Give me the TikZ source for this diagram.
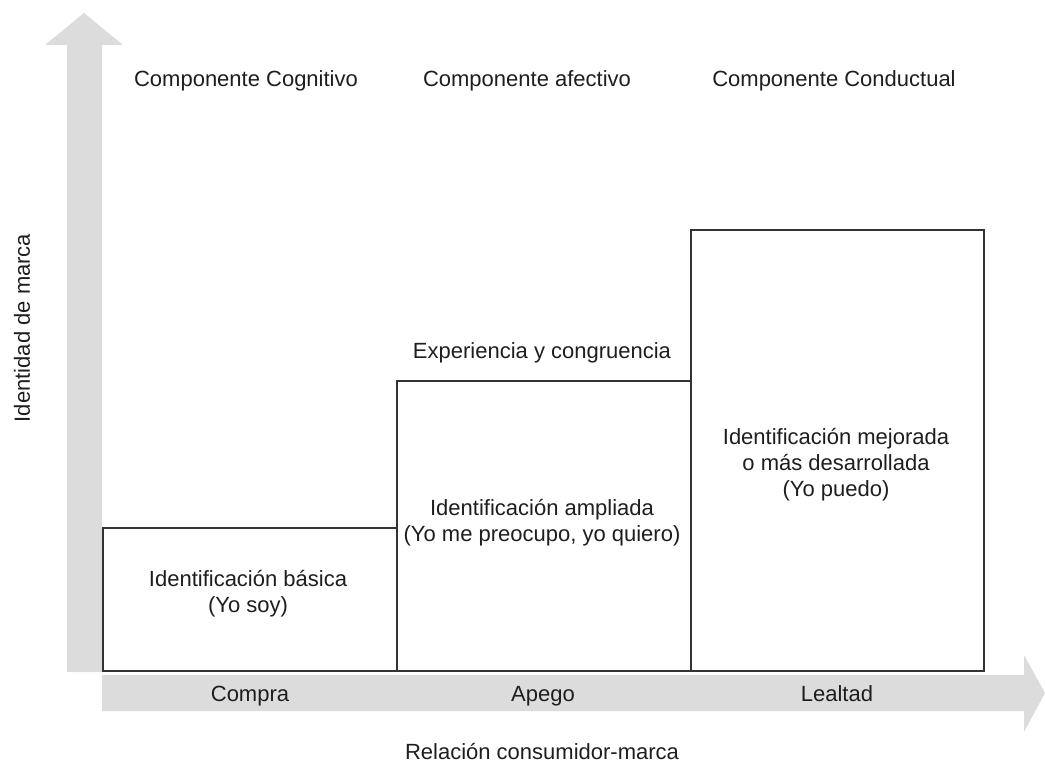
\documentclass[tikz,border=0pt]{standalone}
\usepackage{fontspec}
\setmainfont{Liberation Sans}
\begin{document}
\begin{tikzpicture}[x=1pt,y=-1pt,
  axisfill/.style={fill=axisgray,draw=none},
  stage/.style={draw=boxline,line width=1.8pt,fill=white,inner sep=0pt,anchor=south west},
  txt/.style={text=ink,font=\fontsize{22}{26}\selectfont,align=center,inner sep=0pt,anchor=base}]
\definecolor{axisgray}{HTML}{DCDCDC}
\definecolor{boxline}{HTML}{333333}
\definecolor{ink}{HTML}{1E1E1E}
\useasboundingbox (0,0) rectangle (1045,765);
% vertical axis arrow
\fill[axisfill] (67,672) -- (67,45) -- (45,45) -- (84,13) -- (123,45) -- (102,45) -- (102,672) -- cycle;
% horizontal axis arrow
\fill[axisfill] (102,675) -- (1024,675) -- (1024,655) -- (1045,693) -- (1024,732) -- (1024,711) -- (102,711) -- cycle;
% stages
\node[stage,minimum width=294pt,minimum height=143pt] (b1) at (102,672) {};
\node[stage,minimum width=294pt,minimum height=290pt] (b2) at (396,672) {};
\node[stage,minimum width=293pt,minimum height=441pt] (b3) at (690,672) {};
% headings
\node[txt] (h1) at (246,87) {Componente Cognitivo};
\node[txt] (h2) at (527,87) {Componente afectivo};
\node[txt] (h3) at (834,87) {Componente Conductual};
\node[txt] (exp) at (542,358) {Experiencia y congruencia};
% box contents (anchored on the baseline of the last line)
\node[txt] (t1) at (248,612) {Identificación básica\\(Yo soy)};
\node[txt] (t2) at (542,541) {Identificación ampliada\\(Yo me preocupo, yo quiero)};
\node[txt] (t3) at (836,496) {Identificación mejorada\\o más desarrollada\\(Yo puedo)};
% axis labels
\node[txt] (c1) at (250,701) {Compra};
\node[txt] (c2) at (543,701) {Apego};
\node[txt] (c3) at (837,701) {Lealtad};
\node[txt] (xl) at (542,759) {Relación consumidor-marca};
\node[txt,rotate=90] (yl) at (30,328) {Identidad de marca};
\end{tikzpicture}
\end{document}
